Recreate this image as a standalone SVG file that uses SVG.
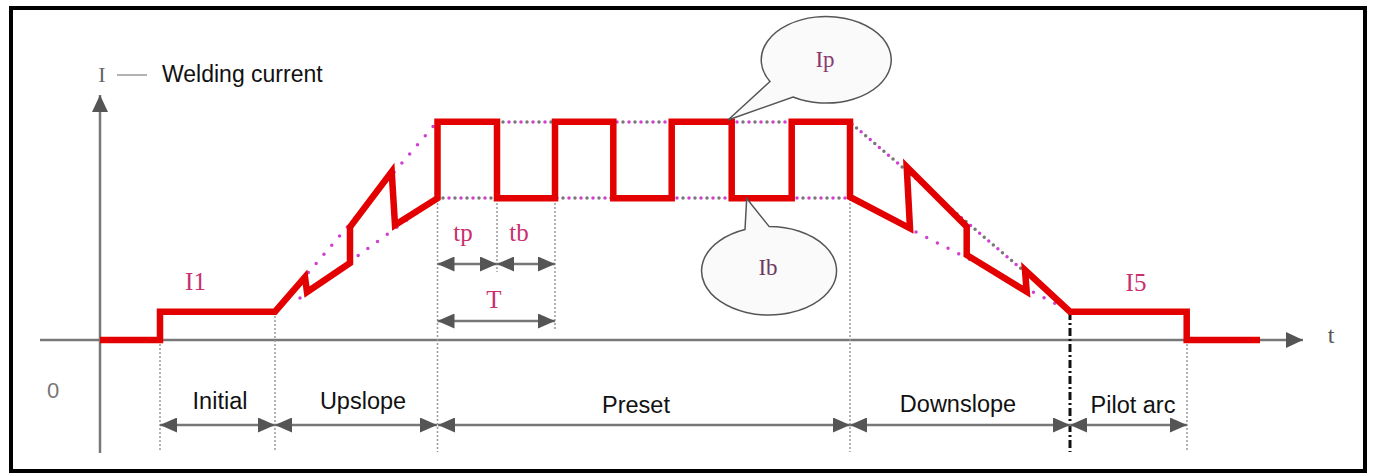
<svg xmlns="http://www.w3.org/2000/svg" width="1373" height="474" viewBox="0 0 1373 474">
<style>
.sans{font-family:"Liberation Sans",Arial,sans-serif;fill:#111}
.serif{font-family:"Liberation Serif","Times New Roman",serif}
.pk{fill:#c8306e}
.axis{stroke:#777;stroke-width:2.5;fill:none}
.vd{stroke:#999;stroke-width:1.5;stroke-dasharray:2 2;fill:none}
.dm{stroke:#d040d0;stroke-width:3.5;stroke-linecap:round;stroke-dasharray:0 12;fill:none}
.dg{stroke:#777;stroke-width:3.5;stroke-linecap:round;stroke-dasharray:0 12;stroke-dashoffset:-6;fill:none}
.dim{stroke:#777;stroke-width:2.5;fill:none;marker-start:url(#ah);marker-end:url(#ah)}
.wave{stroke:#e20000;stroke-width:6.5;fill:none;stroke-linejoin:miter;stroke-miterlimit:10}
.call{fill:#fafafa;stroke:#555;stroke-width:1.5}
</style>
<defs>
<marker id="ah" markerUnits="userSpaceOnUse" markerWidth="17" markerHeight="15" refX="17" refY="7.5" orient="auto-start-reverse">
<path d="M0,0 L17,7.5 L0,15 Z" fill="#555"/>
</marker>
<marker id="ax" markerUnits="userSpaceOnUse" markerWidth="17" markerHeight="16" refX="17" refY="8" orient="auto">
<path d="M0,0 L17,8 L0,16 Z" fill="#555"/>
</marker>
</defs>
<rect width="1373" height="474" fill="#fff"/>
<rect id="frame" x="11" y="8" width="1354" height="463" fill="none" stroke="#000" stroke-width="4"/>

<g id="axes">
<line class="axis" x1="100" y1="453" x2="100" y2="95" marker-end="url(#ax)"/>
<line class="axis" x1="40" y1="340" x2="1303" y2="340" marker-end="url(#ax)"/>
<text class="serif" x="102" y="82" font-size="22" fill="#666" text-anchor="middle">I</text>
<line x1="117" y1="75" x2="147" y2="75" stroke="#999" stroke-width="1.5"/>
<text class="sans" x="162" y="82" font-size="23">Welding current</text>
<text x="53" y="398" font-size="22" fill="#777" text-anchor="middle" font-family="Liberation Sans, Arial, sans-serif">0</text>
<text class="serif" x="1331" y="343" font-size="24" fill="#555" text-anchor="middle">t</text>
</g>

<g id="guides">
<line class="vd" x1="160" y1="340" x2="160" y2="452"/>
<line class="vd" x1="275" y1="312" x2="275" y2="452"/>
<line class="vd" x1="437.5" y1="199" x2="437.5" y2="452"/>
<line class="vd" x1="497" y1="199" x2="497" y2="272"/>
<line class="vd" x1="555" y1="199" x2="555" y2="330"/>
<line class="vd" x1="850" y1="199" x2="850" y2="452"/>
<line class="vd" x1="1187" y1="340" x2="1187" y2="452"/>
<line x1="1070" y1="312" x2="1070" y2="452" stroke="#111" stroke-width="3" stroke-dasharray="8 3 2 3"/>
</g>

<g id="envelope">
<line class="dm" x1="285" y1="300" x2="437" y2="122"/>
<line class="dm" x1="300" y1="298" x2="437" y2="198"/>
<line class="dm" x1="437" y1="122" x2="850" y2="122"/>
<line class="dg" x1="437" y1="122" x2="850" y2="122"/>
<line class="dm" x1="437" y1="198" x2="850" y2="198"/>
<line class="dg" x1="437" y1="198" x2="850" y2="198"/>
<line class="dm" x1="852" y1="124" x2="1060" y2="302"/>
<line class="dg" x1="852" y1="124" x2="1060" y2="302"/>
<line class="dm" x1="852" y1="199" x2="1066" y2="309"/>
</g>

<g id="waveform">
<polyline class="wave" points="100,340 160,340 160,311.7 275,311.7 305,277 307,292 350,263 350,227 391.7,171.7 395,225 437.5,198.3 437.5,121.7 497,121.7 497,198.3 555,198.3 555,121.7 613.3,121.7 613.3,198.3 671.7,198.3 671.7,121.7 731.7,121.7 731.7,198.3 791.7,198.3 791.7,121.7 850,121.7 850,197 910,228.3 906.7,166.7 966.7,226.7 966.7,255 1026.7,291.7 1025,270 1070,311.7 1186.7,311.7 1186.7,340 1260,340"/>
</g>

<g id="callout-Ip">
<path class="call" d="M770,81.5 L728,120 L793,97 A65,43.3 0 1 0 770,81.5 Z"/>
<text class="serif" x="825" y="67" font-size="23" fill="#8a3a6e" text-anchor="middle">Ip</text>
</g>
<g id="callout-Ib">
<path class="call" d="M745,229.5 L746.7,198.5 L769.2,226.6 A67.5,44.2 0 1 1 745,229.5 Z"/>
<text class="serif" x="768" y="275" font-size="23" fill="#6e3a60" text-anchor="middle">Ib</text>
</g>

<g id="level-labels">
<text class="serif pk" x="195.5" y="290" font-size="25" text-anchor="middle">I1</text>
<text class="serif pk" x="1136" y="291" font-size="25" text-anchor="middle">I5</text>
<text class="serif pk" x="463" y="241" font-size="25" text-anchor="middle">tp</text>
<text class="serif pk" x="519" y="241" font-size="25" text-anchor="middle">tb</text>
<text class="serif pk" x="494" y="308" font-size="25" text-anchor="middle">T</text>
</g>

<g id="phase-labels">
<text class="sans" x="220" y="409" font-size="23.5" text-anchor="middle">Initial</text>
<text class="sans" x="363" y="409" font-size="23.5" text-anchor="middle">Upslope</text>
<text class="sans" x="636" y="413" font-size="23.5" text-anchor="middle">Preset</text>
<text class="sans" x="958" y="412" font-size="23.5" text-anchor="middle">Downslope</text>
<text class="sans" x="1133" y="413" font-size="23.5" text-anchor="middle">Pilot arc</text>
</g>

<g id="connectors">
<line class="dim" x1="437.5" y1="264" x2="497" y2="264"/>
<line class="dim" x1="497" y1="264" x2="555" y2="264"/>
<line class="dim" x1="437.5" y1="321" x2="555" y2="321"/>
<line class="dim" x1="160" y1="425" x2="275" y2="425"/>
<line class="dim" x1="275" y1="425" x2="437" y2="425"/>
<line class="dim" x1="438" y1="425" x2="850" y2="425"/>
<line class="dim" x1="850" y1="425" x2="1070" y2="425"/>
<line class="dim" x1="1070" y1="425" x2="1187" y2="425"/>
</g>
</svg>
